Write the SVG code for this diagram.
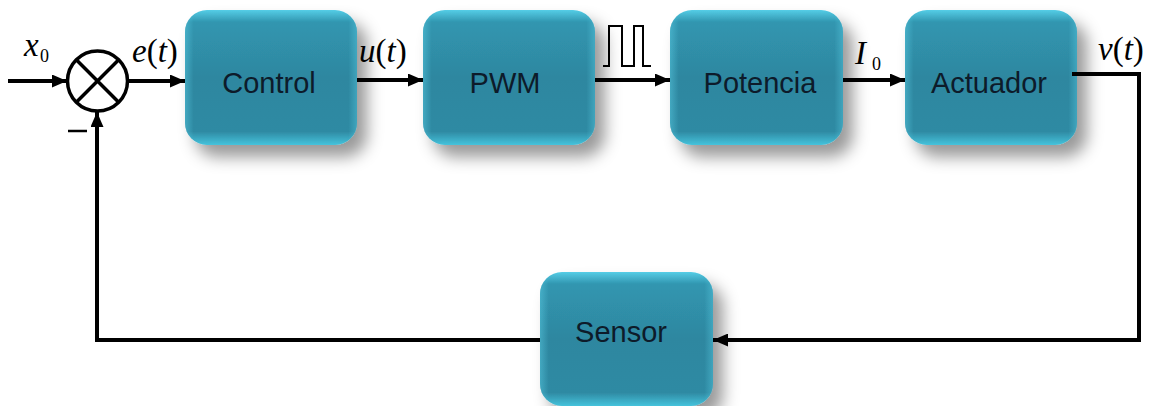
<svg xmlns="http://www.w3.org/2000/svg" width="1160" height="406" viewBox="0 0 1160 406">
<style>
.box{fill:url(#g);filter:url(#sh)}
.edge{fill:url(#gh)}
.lbl{font-family:"Liberation Sans",Arial,sans-serif;font-size:29px;fill:#0d1b2a;text-anchor:middle}
.m{font-family:"Liberation Serif","Times New Roman",serif;font-style:italic;font-size:33px;fill:#000}
.up{font-style:normal}
.sub{font-family:"Liberation Serif","Times New Roman",serif;font-size:18px;fill:#000}
.w{fill:none;stroke:#000;stroke-width:4}
</style>
<defs>
<linearGradient id="g" x1="0" y1="0" x2="0" y2="1">
<stop offset="0" stop-color="#55cde6"/>
<stop offset="0.09" stop-color="#3196b0"/>
<stop offset="0.5" stop-color="#2e87a0"/>
<stop offset="0.9" stop-color="#2f8aa3"/>
<stop offset="1" stop-color="#45c3dc"/>
</linearGradient>
<linearGradient id="gh" x1="0" y1="0" x2="1" y2="0">
<stop offset="0" stop-color="#5ccfe6" stop-opacity="0.45"/>
<stop offset="0.05" stop-color="#5ccfe6" stop-opacity="0"/>
<stop offset="0.95" stop-color="#5ccfe6" stop-opacity="0"/>
<stop offset="1" stop-color="#5ccfe6" stop-opacity="0.4"/>
</linearGradient>
<filter id="sh" x="-20%" y="-20%" width="150%" height="150%">
<feDropShadow dx="10" dy="12" stdDeviation="8" flood-color="#000" flood-opacity="0.4"/>
</filter>
<marker id="a" viewBox="0 0 15 13" refX="15" refY="6.5" markerWidth="15" markerHeight="13" markerUnits="userSpaceOnUse" orient="auto">
<path d="M0,0 L15,6.5 L0,13 z" fill="#000"/>
</marker>
</defs>
<rect width="1160" height="406" fill="#fff"/>

<g id="control">
<rect class="box" x="185" y="10" width="172" height="135" rx="22"/>
<rect class="edge" x="185" y="10" width="172" height="135" rx="22"/>
<text class="lbl" x="269" y="93">Control</text>
</g>
<g id="pwm">
<rect class="box" x="423" y="10" width="172" height="135" rx="22"/>
<rect class="edge" x="423" y="10" width="172" height="135" rx="22"/>
<text class="lbl" x="505" y="93">PWM</text>
</g>
<g id="potencia">
<rect class="box" x="670" y="10" width="173" height="135" rx="22"/>
<rect class="edge" x="670" y="10" width="173" height="135" rx="22"/>
<text class="lbl" x="760" y="93">Potencia</text>
</g>
<g id="actuador">
<rect class="box" x="905" y="10" width="172" height="135" rx="22"/>
<rect class="edge" x="905" y="10" width="172" height="135" rx="22"/>
<text class="lbl" x="989" y="93">Actuador</text>
</g>
<g id="sensor">
<rect class="box" x="540" y="272" width="173" height="134" rx="22"/>
<rect class="edge" x="540" y="272" width="173" height="134" rx="22"/>
<text class="lbl" x="621" y="342">Sensor</text>
</g>

<g id="sum">
<circle cx="97.5" cy="81" r="30" fill="#fff" stroke="#000" stroke-width="3.5"/>
<path d="M76.3,59.8 L118.7,102.2 M118.7,59.8 L76.3,102.2" stroke="#000" stroke-width="3.5"/>
</g>

<g id="connectors">
<path class="w" d="M8,81 H67" marker-end="url(#a)"/>
<path class="w" d="M128,81 H185" marker-end="url(#a)"/>
<path class="w" d="M357,80 H423" marker-end="url(#a)"/>
<path class="w" d="M595,80 H670" marker-end="url(#a)"/>
<path class="w" d="M843,80 H905" marker-end="url(#a)"/>
<path class="w" d="M1072,74 H1139 V340 H713" marker-end="url(#a)"/>
<path class="w" d="M540,340 H97 V112" marker-end="url(#a)"/>
</g>

<g id="labels">
<text class="m" x="24" y="56" font-size="30">x</text>
<text class="sub" x="40" y="62">0</text>
<text class="m" x="132" y="62">e<tspan class="up">(</tspan>t<tspan class="up">)</tspan></text>
<text class="m" x="359" y="62">u<tspan class="up">(</tspan>t<tspan class="up">)</tspan></text>
<text class="m" x="855" y="64" font-size="30">I</text>
<text class="sub" x="872" y="70">0</text>
<text class="m" x="1098" y="60">v<tspan class="up">(</tspan>t<tspan class="up">)</tspan></text>
<path d="M603,66 H609 V26 H622 V66 H634 V26 H643 V66 H651" fill="none" stroke="#000" stroke-width="2"/>
<path d="M68,131 H87" stroke="#000" stroke-width="2.5"/>
</g>
</svg>
